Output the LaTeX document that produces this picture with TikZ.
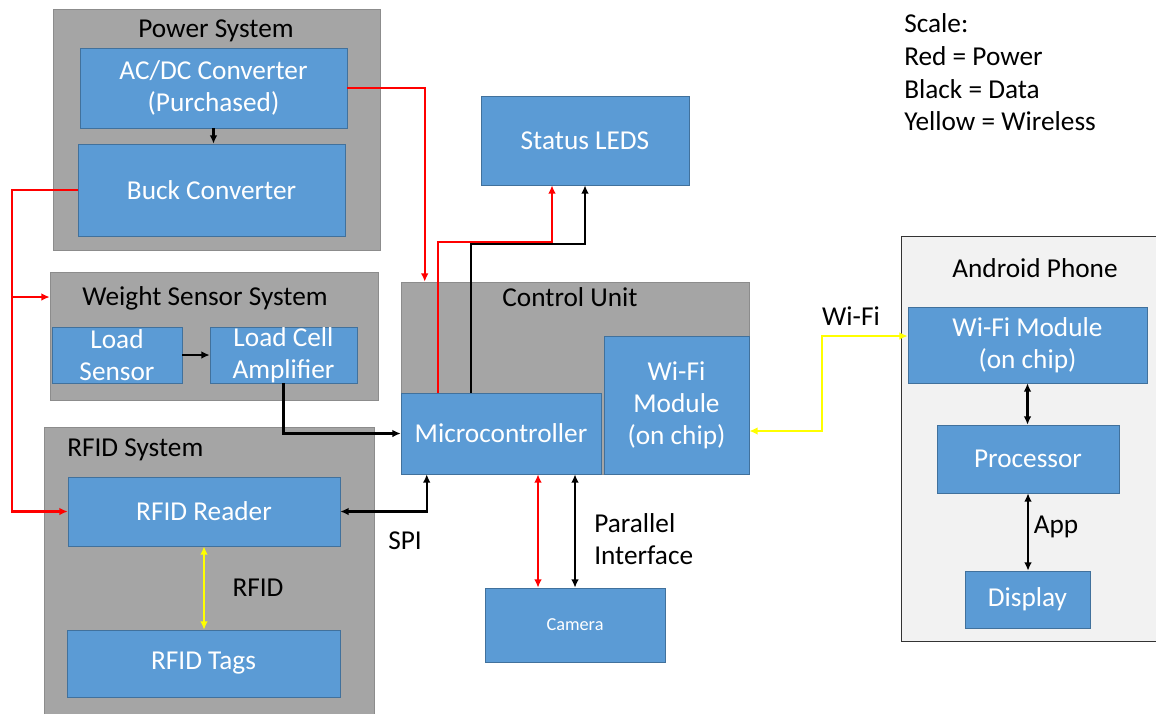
\documentclass[tikz,border=0pt]{standalone}
\usepackage{fontspec}
\setmainfont{Carlito}
\usetikzlibrary{arrows.meta}
\newlength\pxu
\setlength\pxu{0.025cm}
\definecolor{blockblue}{HTML}{5B9BD5}
\definecolor{blockedge}{HTML}{41719C}
\definecolor{groupgrey}{HTML}{A5A5A5}
\definecolor{groupedge}{HTML}{8C8C8C}
\definecolor{phonegrey}{HTML}{F2F2F2}
\definecolor{wireless}{HTML}{FFFF00}
\tikzset{every node/.style={inner sep=0pt, align=center}}
\tikzset{dims/.style 2 args={minimum width=#1\pxu, minimum height=#2\pxu}}
\tikzset{block/.style={draw=blockedge, fill=blockblue, text=white}}
\tikzset{group/.style={draw=groupedge, fill=groupgrey}}
\tikzset{power/.style={draw=red, line width=1.6pt}}
\tikzset{data/.style={draw=black, line width=1.6pt}}
\tikzset{radio/.style={draw=wireless, line width=1.6pt}}
\tikzset{>={Latex[length=6pt,width=5.5pt]}}

\begin{document}
\begin{tikzpicture}[x=\pxu, y=-\pxu, font=\fontsize{19.4}{22.7}\selectfont]
  \useasboundingbox (0,0) rectangle (1156,713);

  \node (pwrsys) [group, dims={327}{241}] at (216.5,129.5) {};
  \node (wss) [group, dims={328}{128}] at (214,336) {};
  \node (rfidsys) [group, dims={330}{293}] at (209,573.5) {};
  \node (ctrl) [group, dims={348}{192}] at (575,378) {};
  \node (phone) [draw=black!80, fill=phonegrey, dims={269}{405}] at (1035.5,438.5) {};

  \node (pwrtitle) at (216,31) {Power System};
  \node (wsstitle) at (205,298) {Weight Sensor System};
  \node (rfidtitle) [anchor=west] at (67,450) {RFID System};
  \node (ctrltitle) at (570,297) {Control Unit};
  \node (phonetitle) at (1035,268) {Android Phone};

  \node (acdc) [block, dims={267}{80}] at (213.5,88) {AC/DC Converter\\(Purchased)};
  \node (buck) [block, dims={267}{92}] at (211.5,190) {Buck Converter};
  \node (sensor) [block, dims={130}{56}] at (117,355) {Load\\Sensor};
  \node (amp) [block, dims={147}{56}] at (283.5,355) {Load Cell\\Amplifier};
  \node (reader) [block, dims={272}{69}] at (204,511.5) {RFID Reader};
  \node (tags) [block, dims={273}{67}] at (203.5,663.5) {RFID Tags};
  \node (mcu) [block, dims={200}{81}] at (501,433.5) {Microcontroller};
  \node (wifi) [block, dims={145}{138}] at (676.5,405) {Wi-Fi\\Module\\(on chip)};
  \node (leds) [block, dims={208}{89}] at (585,140.5) {Status LEDS};
  \node (cam) [block, dims={180}{74}, font=\fontsize{13}{15}\selectfont] at (575,625) {Camera};
  \node (phwifi) [block, dims={239}{76}] at (1027.5,345) {Wi-Fi Module\\(on chip)};
  \node (proc) [block, dims={182}{68}] at (1028,459) {Processor};
  \node (disp) [block, dims={125}{57}] at (1027.5,599.5) {Display};

  \node (scale) [anchor=north west, align=left, font=\fontsize{19.4}{23.4}\selectfont] at (904,13)
    {Scale:\\Red = Power\\Black = Data\\Yellow = Wireless};
  \node (spilbl) at (405,541) {SPI};
  \node (rfidlbl) at (258,588) {RFID};
  \node (parlbl) [anchor=west, align=left] at (594,539) {Parallel\\Interface};
  \node (wifilbl) at (851,316) {Wi-Fi};
  \node (applbl) at (1056,527) {App};

  \coordinate (bus) at (12,297);

  \draw[data,->] (acdc.south) -- (acdc.south |- buck.north);
  \draw[power,->] (acdc.east) -| ([xshift=24\pxu]ctrl.north west);
  \draw[power,->] (buck.west) -- (bus |- buck.west) |- (reader.west);
  \draw[power,->] (bus) -- (bus -| wss.west);

  \draw[data,->] (sensor.east) -- (amp.west);
  \draw[data,->] (amp.south) |- (mcu.west);
  \draw[data,<->] (reader.east) -| ([xshift=26\pxu]mcu.south west);
  \draw[radio,<->] (reader.south) -- (reader.south |- tags.north);

  \draw[power,->] ([xshift=37\pxu]mcu.north west) -- ++(0,-151) -| ([xshift=-33\pxu]leds.south);
  \draw[data,->] ([xshift=70\pxu]mcu.north west) -- ++(0,-149) -| (leds.south);

  \draw[power,<->] ([xshift=-37\pxu]cam.north) -- ([xshift=-37\pxu]cam.north |- mcu.south);
  \draw[data,<->] (cam.north) -- (cam.north |- mcu.south);

  \draw[radio,<->] ([yshift=-26\pxu]wifi.east) -- ++(73,0) |- ([yshift=9\pxu]phwifi.west);

  \draw[data,<->] (phwifi.south) -- (phwifi.south |- proc.north);
  \draw[data,<->] (proc.south) -- (proc.south |- disp.north);
\end{tikzpicture}
\end{document}
